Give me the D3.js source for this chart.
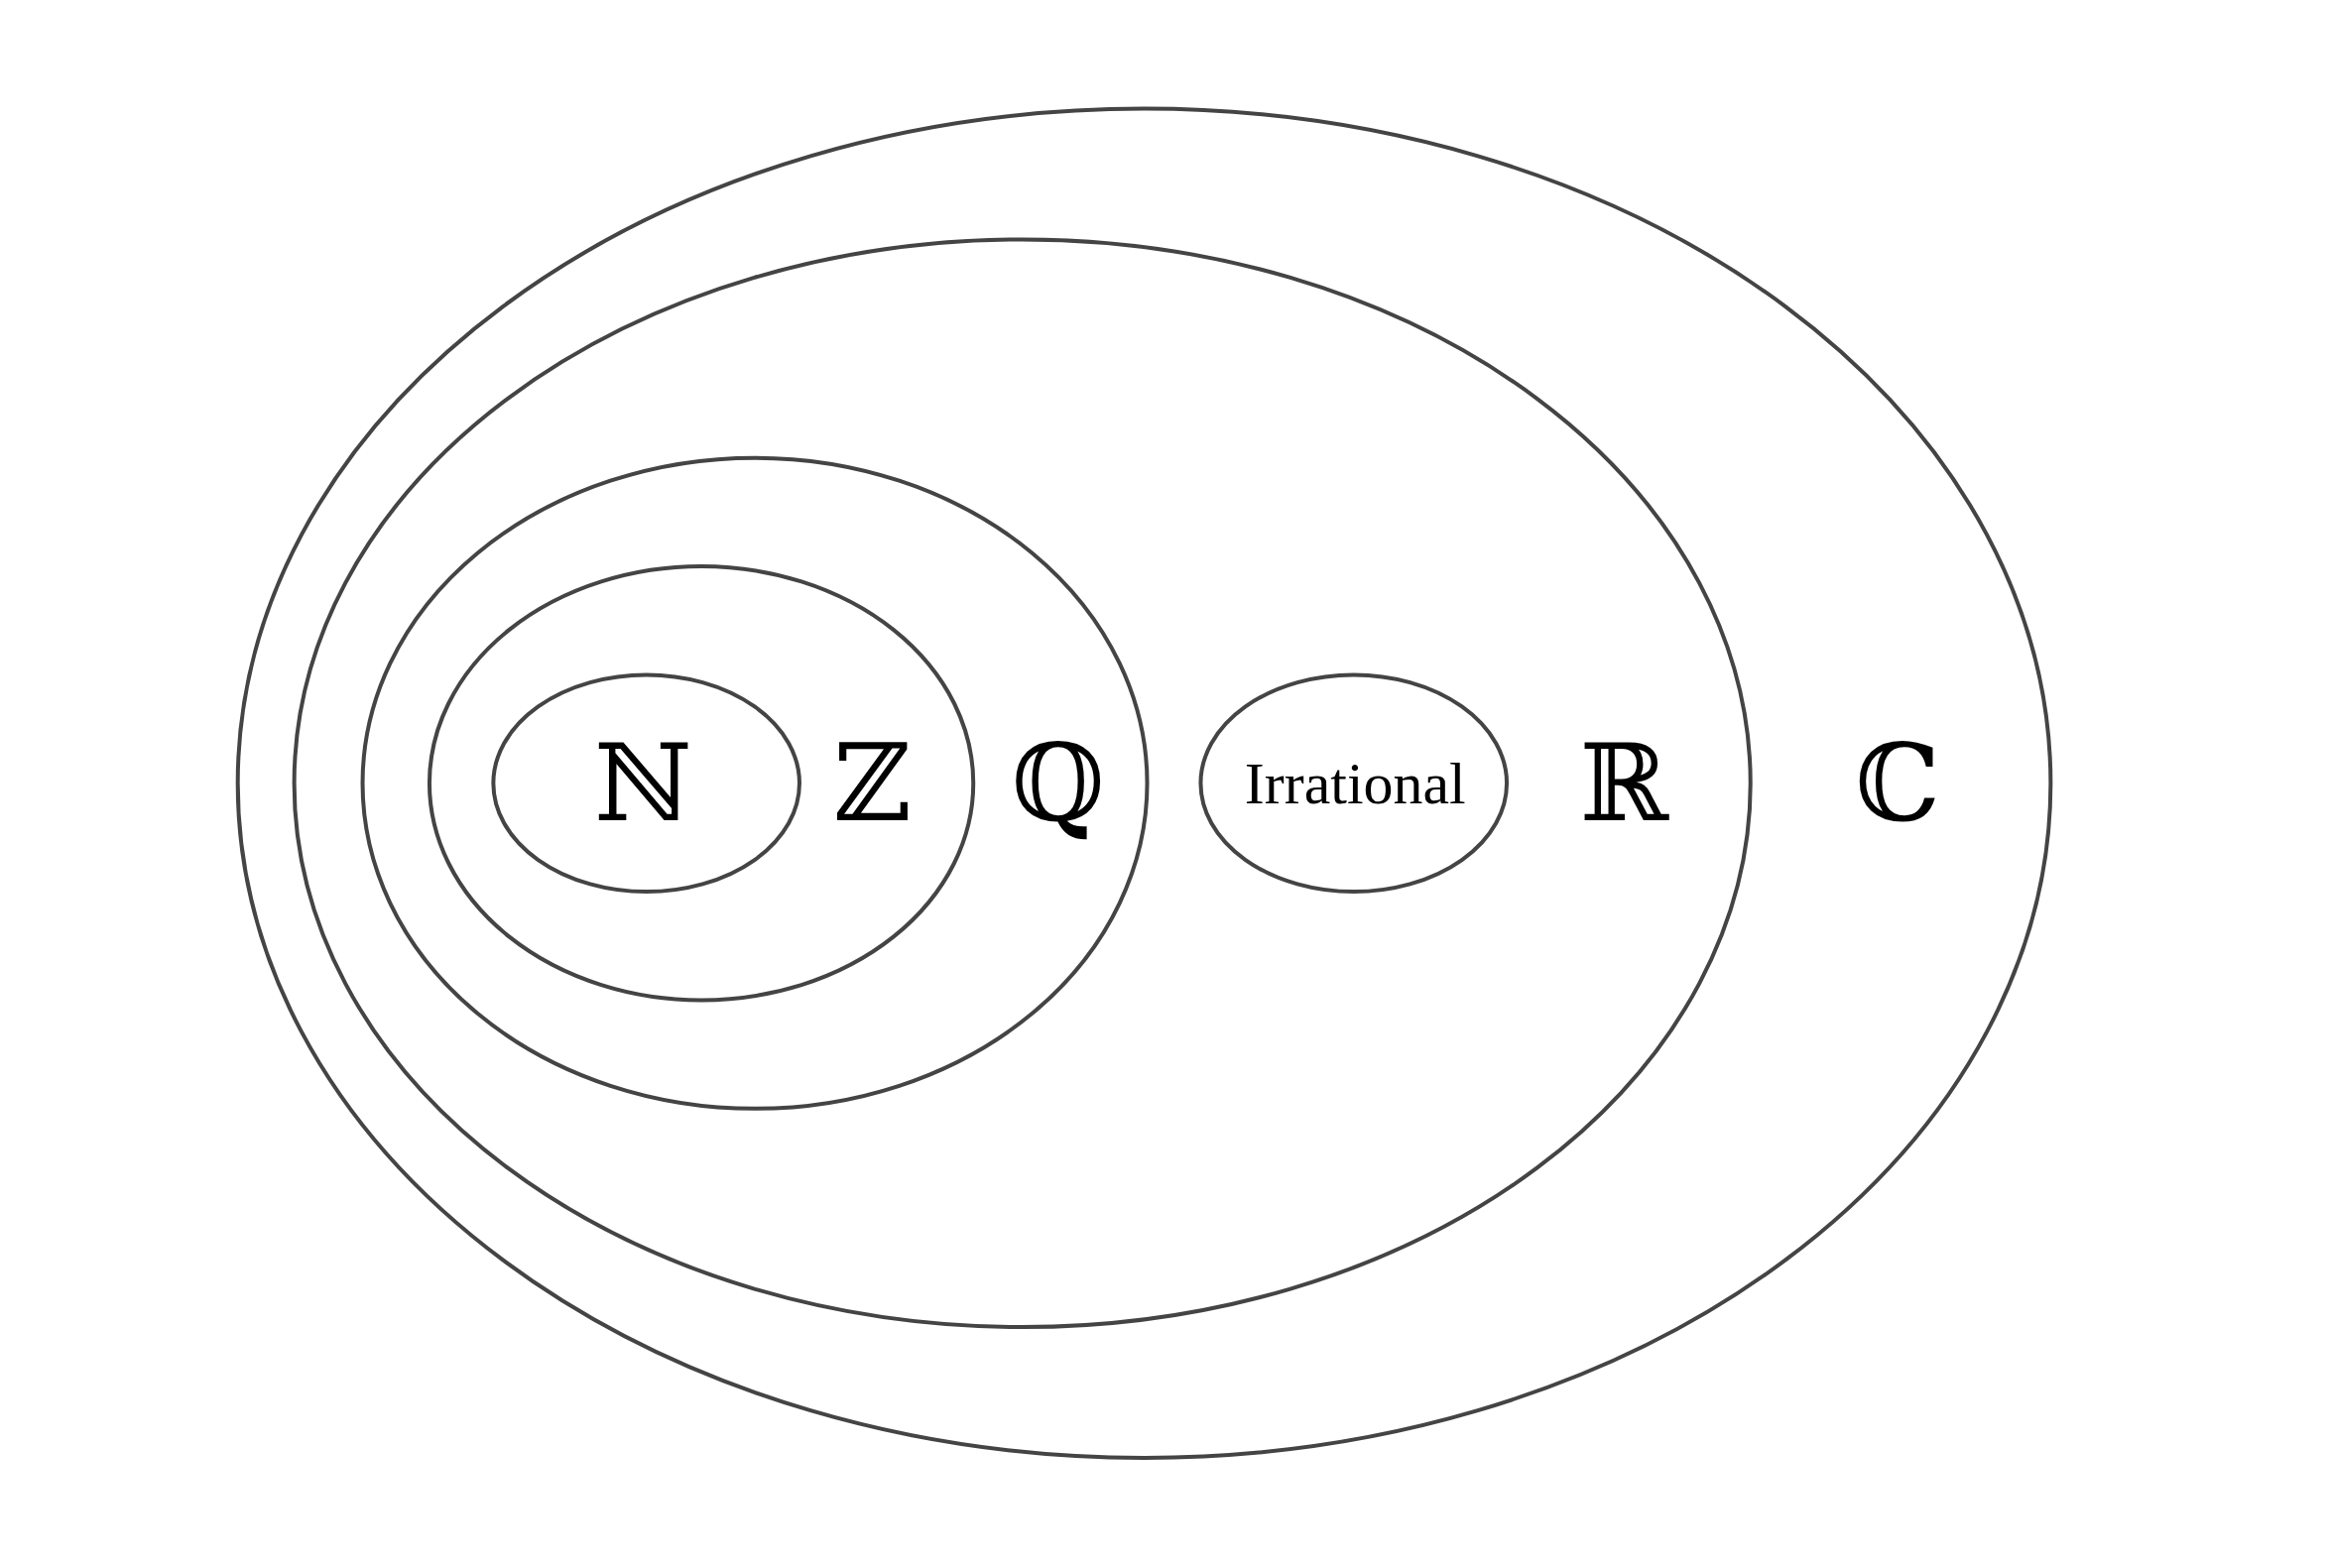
<!DOCTYPE html>
<html><head><meta charset="utf-8">
<script src="https://cdn.jsdelivr.net/npm/d3@7"></script>
<style>body{margin:0;background:#fff}</style>
</head><body><div id="chart"></div>
<script>
// sets, in diagram units
const sets = ["C", "R", "Q", "Z", "N", "Irrational"];
const centerX = [770, 688, 508, 472, 435, 911];
const centerY = [527, 527, 527, 527, 527, 527];
const radiusX = [610, 490, 264, 183, 103, 103];
const radiusY = [454, 366, 219, 146, 73, 73];

const labels = ["ℕ", "ℤ", "ℚ", "Irrational", "ℝ", "ℂ"];
const labelX = [433, 587, 712, 912, 1093, 1277];
const labelSize = [72, 72, 72, 36, 72, 72];

const W = 2349, H = 1581;
const x = d3.scaleLinear().domain([0, 1568]).range([0, W]);
const y = d3.scaleLinear().domain([0, 1055]).range([0, H]);
const k = W / 1568;

const svg = d3.select("#chart").append("svg").attr("width", W).attr("height", H);

svg.selectAll(".set")
    .data(sets.map((s, i) => ({s, cx: centerX[i], cy: centerY[i], rx: radiusX[i], ry: radiusY[i]})))
    .join("ellipse")
    .attr("class", "set")
    .attr("cx", d => x(d.cx)).attr("cy", d => y(d.cy))
    .attr("rx", d => d.rx * k).attr("ry", d => d.ry * k)
    .attr("fill", "none").attr("stroke", "#444").attr("stroke-width", 4);

svg.selectAll(".lab")
    .data(labels.map((t, i) => ({t, x: labelX[i], size: labelSize[i]})))
    .join("text")
    .attr("class", "lab")
    .attr("x", d => x(d.x)).attr("y", y(527))
    .attr("text-anchor", "middle").attr("dominant-baseline", "central")
    .style("font-family", d => d.t === "Irrational" ? "'Liberation Serif', serif" : "'DejaVu Serif', serif")
    .style("font-size", d => (d.t === "Irrational" ? 40 : d.size) * k + "px")
    .text(d => d.t);
</script>
</body></html>
